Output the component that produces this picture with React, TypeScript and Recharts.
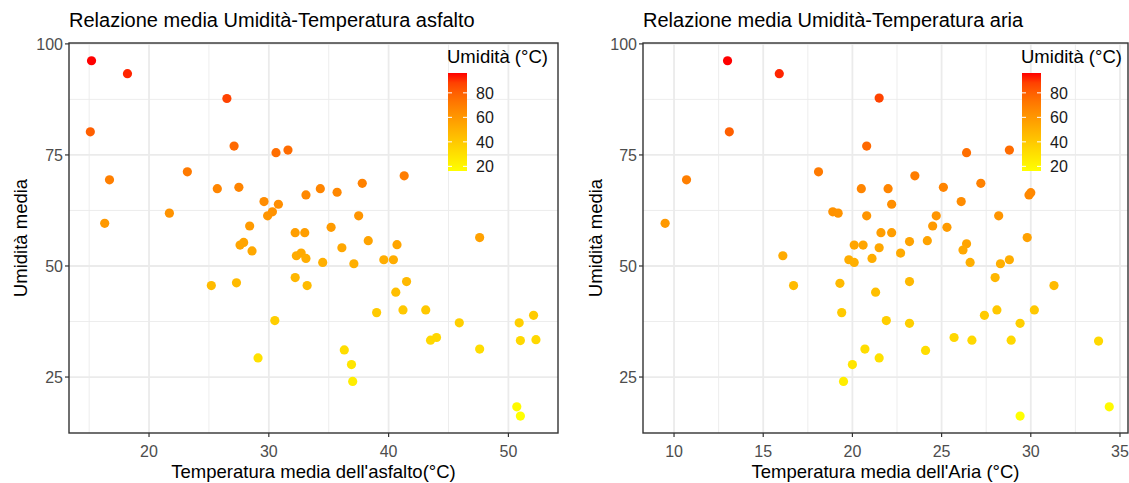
import React from 'react'
import { ScatterChart, Scatter, XAxis, YAxis, CartesianGrid } from 'recharts'

// asfalto: temperatura media dell'asfalto / umidità media
const asfaltoTemp = [15.2, 18.2, 26.5, 15.1, 27.1, 30.6, 31.6, 16.7, 23.2, 25.7, 27.5, 29.6, 30.8, 33.1, 34.3, 35.7, 37.8, 41.3, 21.7, 16.3, 29.9, 30.3, 37.5, 28.4, 32.2, 33.0, 35.2, 27.9, 27.6, 28.6, 32.3, 32.7, 33.1, 34.5, 36.1, 38.3, 37.1, 39.6, 40.4, 40.7, 47.6, 25.2, 27.3, 32.2, 33.2, 41.5, 40.6, 30.5, 29.1, 39.0, 41.2, 43.1, 45.9, 36.3, 36.9, 37.0, 43.5, 44.0, 47.6, 50.9, 52.1, 51.0, 52.3, 50.7, 51.0]
const asfaltoUmid = [96.2, 93.3, 87.7, 80.2, 77.0, 75.5, 76.1, 69.4, 71.2, 67.4, 67.7, 64.5, 63.9, 66.0, 67.4, 66.6, 68.6, 70.3, 61.9, 59.6, 61.3, 62.2, 61.3, 59.0, 57.5, 57.5, 58.7, 55.3, 54.7, 53.4, 52.3, 52.9, 51.7, 50.8, 54.1, 55.7, 50.5, 51.4, 51.4, 54.8, 56.4, 45.6, 46.2, 47.4, 45.6, 46.5, 44.1, 37.7, 29.3, 39.5, 40.1, 40.1, 37.2, 31.1, 27.8, 24.0, 33.3, 33.9, 31.3, 37.2, 38.9, 33.2, 33.4, 18.3, 16.2]

// aria: temperatura media dell'aria / umidità media
const ariaTemp = [13.0, 15.9, 21.5, 13.1, 20.8, 26.4, 28.8, 10.7, 18.1, 23.5, 20.5, 22.0, 25.1, 27.2, 30.0, 29.9, 22.2, 26.1, 18.9, 19.2, 20.8, 24.7, 28.2, 9.5, 24.5, 25.3, 21.6, 22.2, 29.8, 23.2, 24.2, 26.4, 26.2, 20.1, 20.6, 21.5, 22.7, 19.8, 20.1, 21.1, 26.6, 28.3, 28.8, 16.1, 16.7, 19.3, 23.2, 21.3, 28.0, 31.3, 21.9, 23.2, 27.4, 28.1, 30.2, 29.4, 25.7, 26.7, 28.9, 33.8, 20.7, 21.5, 20.0, 19.5, 19.4, 24.1, 29.4, 34.4]
const ariaUmid = [96.2, 93.3, 87.8, 80.2, 77.0, 75.5, 76.1, 69.4, 71.2, 70.3, 67.4, 67.4, 67.7, 68.6, 66.5, 66.0, 63.9, 64.5, 62.2, 61.9, 61.3, 61.3, 61.3, 59.6, 59.0, 58.7, 57.5, 57.5, 56.4, 55.5, 55.7, 55.0, 53.6, 54.7, 54.7, 54.1, 52.9, 51.4, 50.8, 51.7, 50.8, 50.5, 51.4, 52.3, 45.6, 46.1, 46.5, 44.1, 47.4, 45.6, 37.7, 37.1, 38.9, 40.1, 40.1, 37.1, 33.9, 33.3, 33.3, 33.1, 31.3, 29.3, 27.8, 24.0, 39.5, 31.0, 16.2, 18.3]

const yTicks = [25, 50, 75, 100]
const yMinor = [37.5, 62.5, 87.5]
const asfaltoTicks = [20, 30, 40, 50]
const asfaltoMinor = [15, 25, 35, 45]
const ariaTicks = [10, 15, 20, 25, 30, 35]
const ariaMinor = [12.5, 17.5, 22.5, 27.5, 32.5]
const legendTicks = [20, 40, 60, 80]

const FONT = '"Liberation Sans", Arial, sans-serif'

// gradiente giallo -> rosso in spazio Lab (come ggplot)
const toLin = (c: number) => { c /= 255; return c <= 0.04045 ? c / 12.92 : Math.pow((c + 0.055) / 1.055, 2.4) }
const fromLin = (c: number) => {
  const v = c <= 0.0031308 ? 12.92 * c : 1.055 * Math.pow(c, 1 / 2.4) - 0.055
  return Math.round(Math.max(0, Math.min(1, v)) * 255)
}
const f = (t: number) => (t > 0.008856 ? Math.cbrt(t) : 7.787 * t + 16 / 116)
const fi = (t: number) => (t * t * t > 0.008856 ? t * t * t : (t - 16 / 116) / 7.787)
function toLab([r, g, b]: number[]) {
  const R = toLin(r), G = toLin(g), B = toLin(b)
  const X = (0.4124 * R + 0.3576 * G + 0.1805 * B) / 0.95047
  const Y = 0.2126 * R + 0.7152 * G + 0.0722 * B
  const Z = (0.0193 * R + 0.1192 * G + 0.9505 * B) / 1.08883
  return [116 * f(Y) - 16, 500 * (f(X) - f(Y)), 200 * (f(Y) - f(Z))]
}
function fromLab([L, a, bb]: number[]) {
  const fy = (L + 16) / 116
  const X = fi(fy + a / 500) * 0.95047
  const Y = fi(fy)
  const Z = fi(fy - bb / 200) * 1.08883
  const R = 3.2406 * X - 1.5372 * Y - 0.4986 * Z
  const G = -0.9689 * X + 1.8758 * Y + 0.0415 * Z
  const B = 0.0557 * X - 0.204 * Y + 1.057 * Z
  return `rgb(${fromLin(R)},${fromLin(G)},${fromLin(B)})`
}
const LOW = toLab([255, 255, 0])
const HIGH = toLab([255, 0, 0])
const allUmid = [...asfaltoUmid, ...ariaUmid]
const cMin = Math.min(...allUmid)
const cMax = Math.max(...allUmid)
const colorFor = (v: number) => {
  const t = Math.max(0, Math.min(1, (v - cMin) / (cMax - cMin)))
  return fromLab(LOW.map((l, i) => l + (HIGH[i] - l) * t))
}

const dot = (props: any) => (
  <circle cx={props.cx} cy={props.cy} r={4.6} fill={colorFor(props.payload.y)} />
)

const XTick = ({ x, y, payload }: any) => (
  <text x={x} y={y + 20} textAnchor="middle" fill="#4D4D4D" fontSize={16} fontFamily={FONT}>
    {payload.value}
  </text>
)
const YTick = ({ x, y, payload }: any) => (
  <text x={x - 2} y={y} dy="0.36em" textAnchor="end" fill="#4D4D4D" fontSize={16} fontFamily={FONT}>
    {payload.value}
  </text>
)

interface PanelProps {
  left: number
  width: number
  yAxisWidth: number
  rightMargin: number
  xDomain: number[]
  xTicks: number[]
  xMinor: number[]
  temps: number[]
  umid: number[]
}

function Panel({ left, width, yAxisWidth, rightMargin, xDomain, xTicks, xMinor, temps, umid }: PanelProps) {
  const data = temps.map((t, i) => ({ x: t, y: umid[i] }))
  return (
    <div style={{ position: 'absolute', left, top: 0 }}>
      <ScatterChart width={width} height={483} margin={{ top: 43, right: rightMargin, bottom: 0, left: 0 }}>
        <CartesianGrid stroke="#EBEBEB" strokeWidth={0.9} verticalValues={xMinor} horizontalValues={yMinor} />
        <CartesianGrid stroke="#EBEBEB" strokeWidth={1.8} verticalValues={xTicks} horizontalValues={yTicks} />
        <XAxis type="number" dataKey="x" domain={xDomain} ticks={xTicks} allowDataOverflow
          axisLine={false} tickLine={{ stroke: '#333333', strokeWidth: 1.2 }} tickSize={4} tickMargin={0}
          height={50} tick={<XTick />} />
        <YAxis type="number" dataKey="y" domain={[12.4, 100.2]} ticks={yTicks} allowDataOverflow
          axisLine={false} tickLine={{ stroke: '#333333', strokeWidth: 1.2 }} tickSize={4} tickMargin={0}
          width={yAxisWidth} tick={<YTick />} />
        <Scatter data={data} shape={dot} isAnimationActive={false} />
      </ScatterChart>
    </div>
  )
}

function ColorLegend({ x, y }: { x: number; y: number }) {
  const barTop = y + 10
  const barH = 98
  const barW = 19
  const stops = Array.from({ length: 11 }, (_, i) => i / 10)
  const pos = (v: number) => barTop + barH - ((v - cMin) / (cMax - cMin)) * barH
  const gid = `grad${x}`
  return (
    <g fontFamily={FONT}>
      <defs>
        <linearGradient id={gid} x1="0" y1="1" x2="0" y2="0">
          {stops.map(s => (
            <stop key={s} offset={s} stopColor={colorFor(cMin + s * (cMax - cMin))} />
          ))}
        </linearGradient>
      </defs>
      <text x={x - 1} y={y} fontSize={18.5} fill="#000">Umidità (°C)</text>
      <rect x={x} y={barTop} width={barW} height={barH} fill={`url(#${gid})`} />
      {legendTicks.map(v => (
        <g key={v}>
          <line x1={x} x2={x + 4} y1={pos(v)} y2={pos(v)} stroke="#fff" strokeWidth={1} />
          <line x1={x + barW - 4} x2={x + barW} y1={pos(v)} y2={pos(v)} stroke="#fff" strokeWidth={1} />
          <text x={x + 28} y={pos(v)} dy="0.38em" fontSize={16} fill="#1A1A1A">{v}</text>
        </g>
      ))}
    </g>
  )
}

export default function App() {
  return (
    <div style={{ position: 'absolute', left: 0, top: 0, width: 1129, height: 483, background: '#fff' }}>
      <Panel left={0} width={565} yAxisWidth={69} rightMargin={7} xDomain={[13.32, 54.14]}
        xTicks={asfaltoTicks} xMinor={asfaltoMinor} temps={asfaltoTemp} umid={asfaltoUmid} />
      <Panel left={565} width={564} yAxisWidth={78} rightMargin={1} xDomain={[8.26, 35.45]}
        xTicks={ariaTicks} xMinor={ariaMinor} temps={ariaTemp} umid={ariaUmid} />
      <svg width={1129} height={483} style={{ position: 'absolute', left: 0, top: 0, pointerEvents: 'none' }}>
        <g fontFamily={FONT} fill="#000">
          <text x={69} y={27} fontSize={20}>Relazione media Umidità-Temperatura asfalto</text>
          <text x={643} y={27} fontSize={20}>Relazione media Umidità-Temperatura aria</text>
          <text x={313.5} y={478} fontSize={18.5} textAnchor="middle">Temperatura media dell'asfalto(°C)</text>
          <text x={885.5} y={478} fontSize={18.5} textAnchor="middle">Temperatura media dell'Aria (°C)</text>
          <text transform="translate(27,238) rotate(-90)" fontSize={18.5} textAnchor="middle">Umidità media</text>
          <text transform="translate(602,238) rotate(-90)" fontSize={18.5} textAnchor="middle">Umidità media</text>
        </g>
        <rect x={69} y={43} width={489} height={390} fill="none" stroke="#333333" strokeWidth={1.4} />
        <rect x={643} y={43} width={485} height={390} fill="none" stroke="#333333" strokeWidth={1.4} />
        <ColorLegend x={448} y={63} />
        <ColorLegend x={1022} y={63} />
      </svg>
    </div>
  )
}
